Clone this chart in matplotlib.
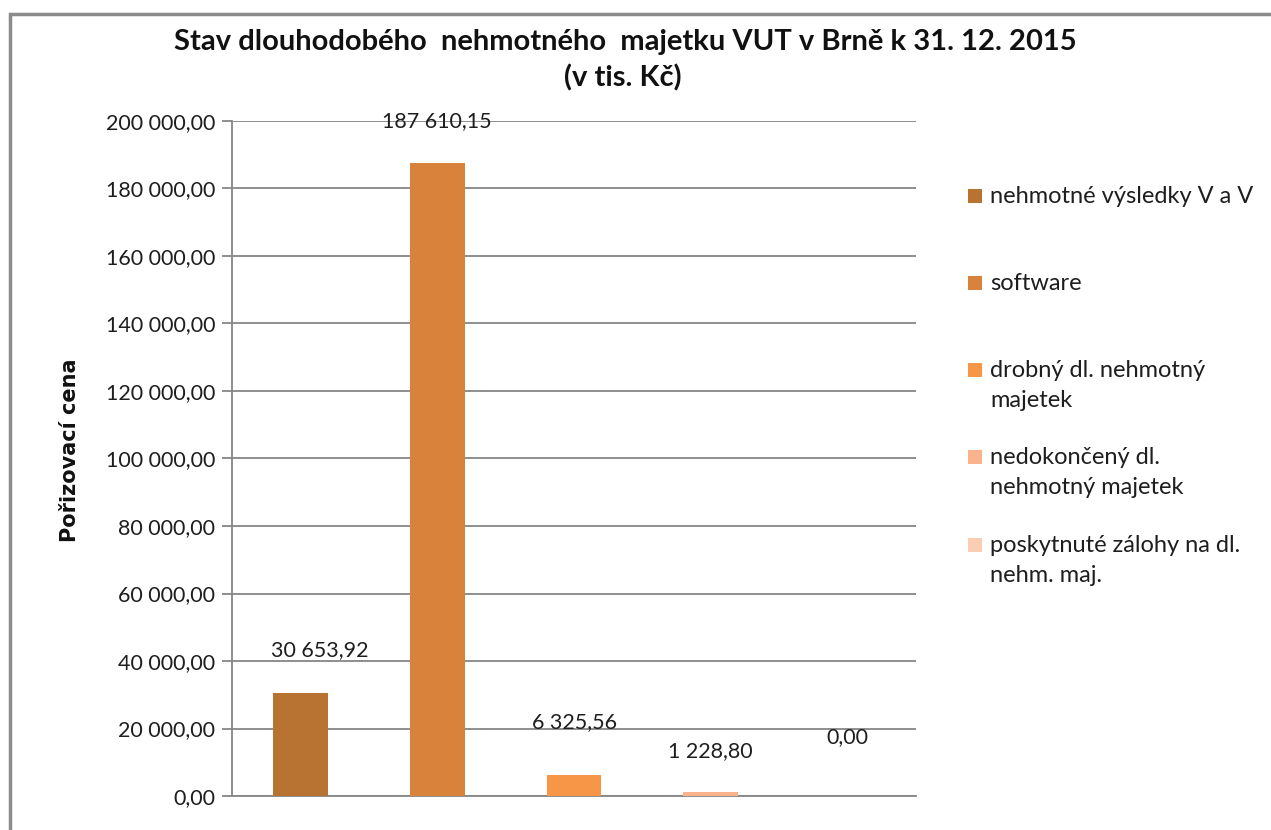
import matplotlib
matplotlib.use("Agg")
import matplotlib.pyplot as plt
from matplotlib.patches import Rectangle
from matplotlib.ticker import FuncFormatter

# data
categories = [
    "nehmotné výsledky V a V",
    "software",
    "drobný dl. nehmotný\nmajetek",
    "nedokončený dl.\nnehmotný majetek",
    "poskytnuté zálohy na dl.\nnehm. maj.",
]
values = [30653.92, 187610.15, 6325.56, 1228.80, 0.00]
colors = ["#B87333", "#D9823B", "#F79646", "#F9B48E", "#FBCDB3"]
yticks = [0, 20000, 40000, 60000, 80000, 100000, 120000, 140000, 160000, 180000, 200000]

# label offsets in pixels (dx, dy) from bar top
label_offsets = [(19, 42), (0, 42), (0, 53), (0, 41), (0, 59)]

W, H = 1271, 830
plt.rcParams["font.family"] = ["Lato", "DejaVu Sans"]

fig = plt.figure(figsize=(W / 100, H / 100), dpi=100)
ax = fig.add_axes([232 / W, 1 - 796 / H, (916 - 232) / W, (796 - 121) / H])

grid_col = "#868686"
txt_col = "#1E1E1E"


def cz_fmt(v, pos=None):
    s = f"{v:,.2f}"
    return s.replace(",", " ").replace(".", ",")


x = list(range(len(values)))
bars = ax.bar(x, values, width=0.4, color=colors, edgecolor="none", zorder=3)

ax.set_xlim(-0.5, len(values) - 0.5)
ax.set_ylim(0, 200000)
ax.set_yticks(yticks)
ax.yaxis.set_major_formatter(FuncFormatter(cz_fmt))
ax.set_xticks([])
ax.grid(axis="y", color=grid_col, linewidth=1.3, zorder=0)
for side in ["top", "right"]:
    ax.spines[side].set_visible(False)
ax.spines["left"].set_color(grid_col)
ax.spines["bottom"].set_color(grid_col)
ax.spines["left"].set_linewidth(1.3)
ax.spines["bottom"].set_linewidth(1.3)
ax.tick_params(axis="y", length=7, width=1.3, color=grid_col, labelsize=15.5,
               labelcolor=txt_col, pad=5)

for xi, v, (dx, dy) in zip(x, values, label_offsets):
    ax.annotate(cz_fmt(v), (xi, v), xytext=(dx, dy), textcoords="offset pixels",
                ha="center", va="center", fontsize=15.5, color=txt_col,
                annotation_clip=False, zorder=4)

# title and axis label
fig.text(625 / W, 1 - 42 / H, "Stav dlouhodobého  nehmotného  majetku VUT v Brně k 31. 12. 2015",
         ha="center", va="center", fontsize=21, fontweight="bold", color="#111111")
fig.text(623 / W, 1 - 78 / H, "(v tis. Kč)", ha="center", va="center",
         fontsize=21, fontweight="bold", color="#111111")
fig.text(70 / W, 1 - 450 / H, "Pořizovací cena", rotation=90, ha="center", va="center",
         fontsize=15, fontweight="bold", family=["DejaVu Sans"], color="#111111")

# legend drawn by hand to keep Excel-like even spacing
leg_y = [196, 283, 370, 457, 545]
for lab, col, yy in zip(categories, colors, leg_y):
    fig.patches.append(Rectangle((968 / W, 1 - (yy + 7) / H), 14 / W, 14 / H,
                                 transform=fig.transFigure, facecolor=col,
                                 edgecolor="none"))
    fig.text(990 / W, 1 - (yy - 10) / H, lab, ha="left", va="top", fontsize=17,
             color=txt_col, linespacing=1.5)

# chart area border
fig.patches.append(Rectangle((10 / W, -0.05), 1.1, 1 - 14 / H + 0.05,
                             transform=fig.transFigure, facecolor="none",
                             edgecolor="#8C8C8C", linewidth=2.5, zorder=10))

fig.savefig("out.png", dpi=100)
